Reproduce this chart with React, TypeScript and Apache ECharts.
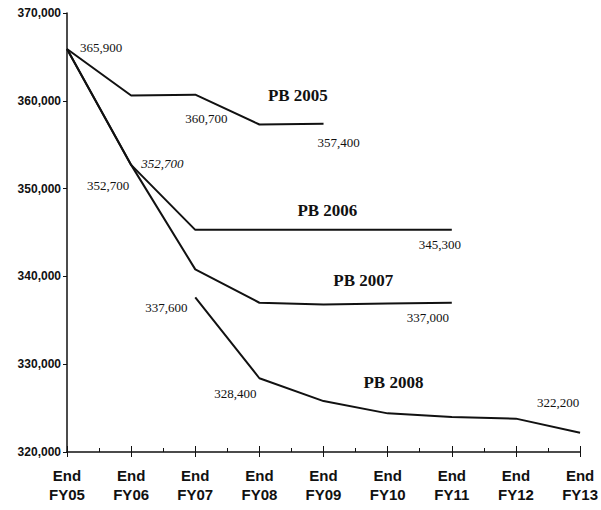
import { useEffect, useRef } from 'react';
import * as echarts from 'echarts';

const categories = ['End\nFY05', 'End\nFY06', 'End\nFY07', 'End\nFY08', 'End\nFY09', 'End\nFY10', 'End\nFY11', 'End\nFY12', 'End\nFY13'];
const seriesNames = ['PB 2005', 'PB 2006', 'PB 2007', 'PB 2008'];
const pb2005 = [365900, 360600, 360700, 357300, 357400, null, null, null, null];
const pb2006 = [365900, 352700, 345300, 345300, 345300, 345300, 345300, null, null];
const pb2007 = [365900, 352700, 340800, 337000, 336800, 336900, 337000, null, null];
const pb2008 = [null, null, 337600, 328400, 325800, 324400, 324000, 323800, 322200];
const seriesValues = [pb2005, pb2006, pb2007, pb2008];

// value annotations: text, anchor category index, anchor value
const valueLabelTexts = ['365,900', '360,700', '357,400', '352,700', '352,700', '345,300', '337,000', '337,600', '328,400', '322,200'];
const valueLabelIndex = [0, 2, 4, 1, 1, 6, 6, 2, 3, 8];
const valueLabelValue = [365900, 360700, 357400, 352700, 352700, 345300, 337000, 337600, 328400, 322200];
// layout offsets (pixels) for the annotations
const valueLabelOffsets: [number, number, string][] = [
  [13, -1, 'left'], [11, 24, 'center'], [15, 19, 'center'], [10, -1, 'left'], [-23, 21, 'center'],
  [-12, 15, 'center'], [-24, 15, 'center'], [-29, 10, 'center'], [-24, 15, 'center'], [-22, -30, 'center'],
];
// series name annotations in data space
const nameLabelIndex = [3.6, 4.06, 4.62, 5.09];
const nameLabelValue = [360550, 347560, 339480, 327860];

export default function App() {
  const ref = useRef<HTMLDivElement>(null);
  useEffect(() => {
    if (!ref.current) return;
    const chart = echarts.init(ref.current, undefined, { renderer: 'svg' });
    const axisCommon = {
      type: 'value' as const,
      min: 0,
      max: 8,
      interval: 1,
      splitLine: { show: false },
    };
    chart.setOption({
      animation: false,
      backgroundColor: '#fff',
      grid: { left: 67, right: 18, top: 13, bottom: 58, containLabel: false },
      xAxis: [
        {
          ...axisCommon,
          position: 'bottom',
          axisLine: { show: true, lineStyle: { color: '#111', width: 1.5 } },
          axisTick: { show: true, inside: true, length: 6, lineStyle: { color: '#111' } },
          minorTick: { show: true, splitNumber: 2, length: 4, lineStyle: { color: '#111' } },
          minorSplitLine: { show: false },
          axisLabel: {
            formatter: (v: number) => categories[Math.round(v)] ?? '',
            fontFamily: 'Liberation Sans',
            fontWeight: 'bold',
            fontSize: 15,
            lineHeight: 19,
            color: '#111',
            margin: 14,
          },
        },
        {
          ...axisCommon,
          position: 'bottom',
          axisLine: { show: false },
          axisTick: { show: true, inside: false, length: 5, lineStyle: { color: '#111' } },
          axisLabel: { show: false },
        },
      ],
      yAxis: {
        type: 'value',
        min: 320000,
        max: 370000,
        interval: 10000,
        splitLine: { show: false },
        axisLine: { show: true, lineStyle: { color: '#111', width: 1.5 } },
        axisTick: { show: true, length: 4, lineStyle: { color: '#111' } },
        axisLabel: {
          formatter: (v: number) => v.toLocaleString('en-US'),
          fontFamily: 'Liberation Sans',
          fontWeight: 'bold',
          fontSize: 12,
          color: '#111',
          margin: 6,
        },
      },
      series: seriesValues.map((vals, s) => ({
        name: seriesNames[s],
        type: 'line',
        xAxisIndex: 0,
        symbol: 'none',
        lineStyle: { color: '#111', width: 2 },
        data: vals
          .map((v, i) => (v == null ? null : [i, v]))
          .filter((d) => d != null),
      })),
    });

    const graphic: any[] = [];
    valueLabelTexts.forEach((t, k) => {
      const p = chart.convertToPixel({ gridIndex: 0 }, [valueLabelIndex[k], valueLabelValue[k]]) as number[];
      const [dx, dy, align] = valueLabelOffsets[k];
      graphic.push({
        type: 'text',
        x: p[0] + dx,
        y: p[1] + dy,
        style: {
          text: t,
          fill: '#111',
          font: `${k === 3 ? 'italic ' : ''}13px "Liberation Serif"`,
          align,
          verticalAlign: 'middle',
        },
      });
    });
    seriesNames.forEach((n, k) => {
      const p = chart.convertToPixel({ gridIndex: 0 }, [nameLabelIndex[k], nameLabelValue[k]]) as number[];
      graphic.push({
        type: 'text',
        x: p[0],
        y: p[1],
        style: {
          text: n,
          fill: '#111',
          font: 'bold 17px "Liberation Serif"',
          align: 'center',
          verticalAlign: 'middle',
        },
      });
    });
    chart.setOption({ graphic });

    return () => chart.dispose();
  }, []);
  return <div ref={ref} style={{ width: 601, height: 510, position: 'absolute', left: 0, top: 0 }} />;
}
